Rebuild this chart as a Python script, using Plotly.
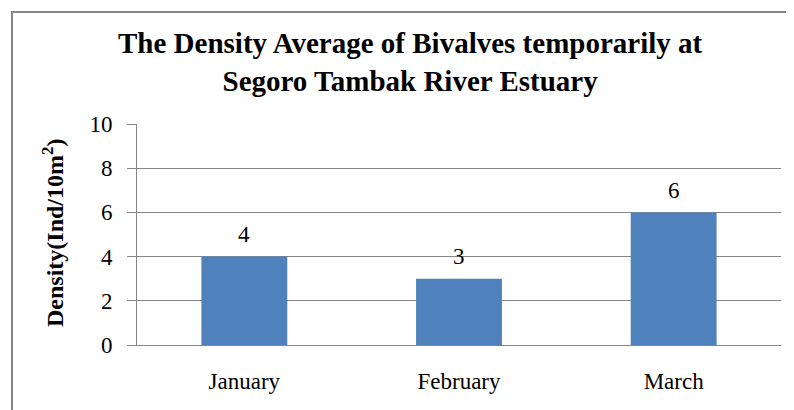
import plotly.graph_objects as go

months = ["January", "February", "March"]
density = [4, 3, 6]
y_ticks = [0, 2, 4, 6, 8, 10]

title_text = "The Density Average of Bivalves temporarily at<br>Segoro Tambak River Estuary"
y_title = "Density(Ind/10m<sup>2</sup>)"

OFF = 8  # page body margin
W, H = 794 - OFF, 410 - OFF
L = 137 - OFF
R = W - (781 - OFF)
T = 124 - OFF
B = H - (345 - OFF)
pw, ph = W - L - R, H - T - B

def px_x(px):
    return (px - OFF - L) / pw

def px_y(py):
    return (H - B - (py - OFF)) / ph

FONT = "Liberation Serif"
GRAY = "#868686"

fig = go.Figure()
fig.add_trace(go.Bar(
    x=months, y=density,
    marker=dict(color="#4F81BD", line=dict(width=0)),
    width=0.4,
    hoverinfo="skip",
))

annotations = []
for m, v in zip(months, density):
    annotations.append(dict(
        x=m, y=v, xref="x", yref="y", text=str(v), showarrow=False,
        yshift=22, font=dict(family=FONT, size=23, color="black"),
    ))

annotations.append(dict(
    x=px_x(410), y=px_y(62), xref="paper", yref="paper",
    text="<b>" + title_text + "</b>", showarrow=False,
    xanchor="center", yanchor="middle",
    font=dict(family=FONT, size=29, color="black"),
))

annotations.append(dict(
    x=px_x(53), y=px_y(233), xref="paper", yref="paper",
    text="<b>" + y_title + "</b>", showarrow=False, textangle=-90,
    xanchor="center", yanchor="middle",
    font=dict(family=FONT, size=24, color="black"),
))

fig.update_layout(
    width=W, height=H,
    margin=dict(l=L, r=R, t=T, b=B, autoexpand=False),
    paper_bgcolor="white", plot_bgcolor="white",
    showlegend=False,
    annotations=annotations,
    shapes=[dict(
        type="rect", xref="paper", yref="paper",
        x0=px_x(12), x1=px_x(820), y0=px_y(12), y1=px_y(440),
        line=dict(color=GRAY, width=2), fillcolor="rgba(0,0,0,0)",
    )],
    font=dict(family=FONT, color="black"),
)

fig.update_yaxes(
    range=[0, 10], tickvals=y_ticks, ticktext=[str(t) for t in y_ticks],
    showline=True, linecolor=GRAY, linewidth=1,
    ticks="outside", ticklen=9, tickcolor=GRAY,
    showgrid=True, gridcolor=GRAY, gridwidth=1,
    zeroline=False,
    tickfont=dict(family=FONT, size=23, color="black"),
    ticklabelstandoff=10,
)
fig.update_xaxes(
    showline=True, linecolor=GRAY, linewidth=1,
    ticks="", showgrid=False,
    tickfont=dict(family=FONT, size=23, color="black"),
    ticklabelstandoff=15,
)

fig.write_html("out.html")
